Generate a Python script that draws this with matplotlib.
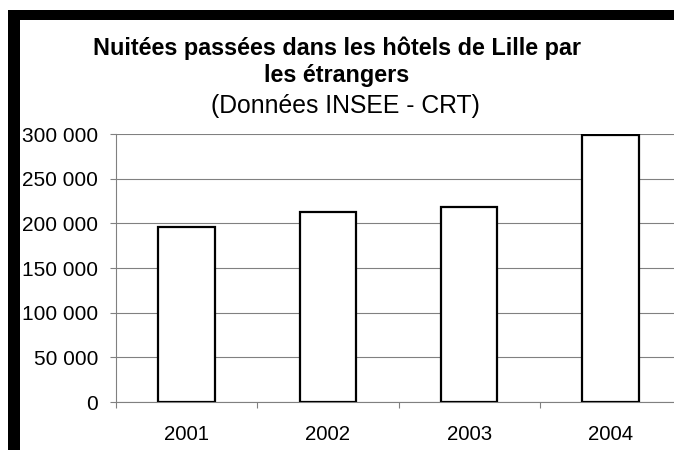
import matplotlib
matplotlib.use("Agg")
import matplotlib.pyplot as plt
from matplotlib.patches import Rectangle
from matplotlib.ticker import FuncFormatter, FixedLocator

plt.rcParams['font.family'] = ['Liberation Sans', 'DejaVu Sans']

years = ['2001', '2002', '2003', '2004']
nuitees = [196000, 213000, 218000, 299000]
yticks = [0, 50000, 100000, 150000, 200000, 250000, 300000]

W, H = 674, 450
fig = plt.figure(figsize=(W / 100, H / 100), dpi=100)

# black frame bits (top and left)
fig.patches.append(Rectangle((8 / W, 1 - 20 / H), 1, 10 / H, transform=fig.transFigure,
                             facecolor='black', edgecolor='none', zorder=0))
fig.patches.append(Rectangle((8 / W, 0), 12 / W, 1 - 10 / H, transform=fig.transFigure,
                             facecolor='black', edgecolor='none', zorder=0))

# plot area runs past the right edge, like the cropped original
ax = fig.add_axes([116 / W, 48 / H, 565 / W, 268 / H])
x = range(len(years))
ax.bar(x, nuitees, width=0.4, color='white', edgecolor='black', linewidth=1.6, zorder=3)

ax.set_xlim(-0.5, len(years) - 0.5)
ax.set_ylim(0, 300000)
ax.set_yticks(yticks)
ax.yaxis.set_major_formatter(FuncFormatter(lambda v, p: f"{int(v):,}".replace(",", " ")))
ax.set_xticks(list(x))
ax.set_xticklabels(years)
ax.xaxis.set_minor_locator(FixedLocator([i - 0.5 for i in range(len(years) + 1)]))

ax.grid(axis='y', color='#808080', linewidth=0.8, zorder=0)
ax.set_axisbelow(True)
for s in ['top', 'right']:
    ax.spines[s].set_visible(False)
for s in ['left', 'bottom']:
    ax.spines[s].set_color('#808080')
    ax.spines[s].set_linewidth(0.8)

ax.tick_params(axis='y', direction='out', length=4.5, width=0.8, color='#808080',
               labelsize=15, pad=8.5)
ax.tick_params(axis='x', which='major', length=0, labelsize=14.7, pad=16.5)
ax.tick_params(axis='x', which='minor', direction='out', length=4, width=0.8, color='#808080')

fig.text(337 / W, 1 - 55 / H, "Nuitées passées dans les hôtels de Lille par",
         ha='center', va='baseline', fontsize=16.8, fontweight='bold')
fig.text(337 / W, 1 - 82 / H, "les étrangers",
         ha='center', va='baseline', fontsize=16.8, fontweight='bold')
fig.text(345.5 / W, 1 - 113 / H, "(Données INSEE - CRT)",
         ha='center', va='baseline', fontsize=17.8)

fig.savefig("out.png", dpi=100)
